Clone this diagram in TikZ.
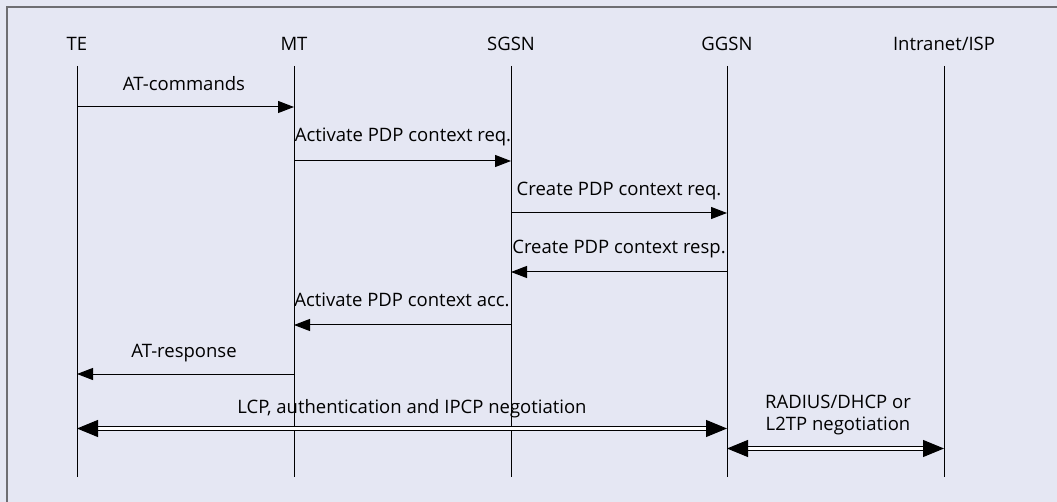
\documentclass[tikz,border=0pt]{standalone}
\usepackage{fontspec}
\setmainfont{Open Sans}
\usetikzlibrary{arrows.meta}
\definecolor{panel}{HTML}{E5E7F3}
\definecolor{rim}{HTML}{6E6E72}
\tikzset{
  every node/.style={font=\fontsize{18.5}{21}\selectfont, inner sep=0pt, text=black},
  hdr/.style={anchor=base},
  lbl/.style={anchor=base},
  life/.style={line width=1pt, black},
  msg/.style={line width=1pt, -{Triangle[length=16pt,width=12pt]}},
  dbl/.style={double, double distance=3.5pt, line width=1pt,
              {Triangle[length=21pt,width=17pt]}-{Triangle[length=21pt,width=17pt]}}
}
\begin{document}
\begin{tikzpicture}[x=1pt,y=-1pt]
  % panel
  \useasboundingbox (0,0) rectangle (1057,502);
  \fill[panel] (0,0) rectangle (1057,502);
  \draw[rim, line width=2pt] (7,502) -- (7,7) -- (1057,7);

  % entities
  \node[hdr] (te)  at (77,51)  {TE};
  \node[hdr] (mt)  at (294,51) {MT};
  \node[hdr] (sg)  at (511,51) {SGSN};
  \node[hdr] (gg)  at (727,51) {GGSN};
  \node[hdr] (isp) at (944,51) {Intranet/ISP};

  % lifeline extent
  \coordinate (top) at (0,66);
  \coordinate (bot) at (0,477);
  \foreach \n in {te,mt,sg,gg,isp}
    \draw[life] (\n |- top) -- (\n |- bot);

  % message rows
  \coordinate (r1) at (0,107);
  \coordinate (r2) at (0,161);
  \coordinate (r3) at (0,213);
  \coordinate (r4) at (0,272);
  \coordinate (r5) at (0,325);
  \coordinate (r6) at (0,374);
  \coordinate (r7) at (0,428.5);
  \coordinate (r8) at (0,448.5);

  \draw[msg] (te |- r1) -- (mt |- r1);
  \node[lbl] (l1) at (184,91) {AT-commands};

  \draw[msg] (mt |- r2) -- (sg |- r2);
  \node[lbl] (l2) at (403,142) {Activate PDP context req.};

  \draw[msg] (sg |- r3) -- (gg |- r3);
  \node[lbl] (l3) at (619,196) {Create PDP context req.};

  \draw[msg] (gg |- r4) -- (sg |- r4);
  \node[lbl] (l4) at (619,254) {Create PDP context resp.};

  \draw[msg] (sg |- r5) -- (mt |- r5);
  \node[lbl] (l5) at (402,307) {Activate PDP context acc.};

  \draw[msg] (mt |- r6) -- (te |- r6);
  \node[lbl] (l6) at (184,358) {AT-response};

  \draw[dbl] (te |- r7) -- (gg |- r7);
  \node[lbl] (l7) at (412,413) {LCP, authentication and IPCP negotiation};

  \draw[dbl] (gg |- r8) -- (isp |- r8);
  \node[lbl] (l8a) at (838,408) {RADIUS/DHCP or};
  \node[lbl] (l8b) at (838,430) {L2TP negotiation};
\end{tikzpicture}
\end{document}
